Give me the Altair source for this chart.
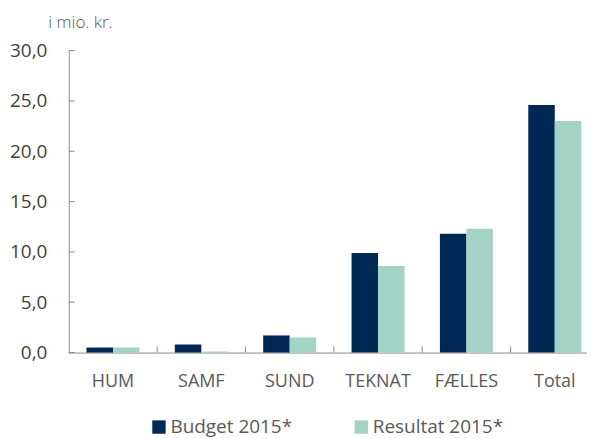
import altair as alt
import pandas as pd

categories = ["HUM", "SAMF", "SUND", "TEKNAT", "FÆLLES", "Total"]
series = ["Budget 2015*", "Resultat 2015*"]
budget = [0.5, 0.8, 1.7, 9.9, 11.8, 24.6]
resultat = [0.5, 0.1, 1.5, 8.6, 12.3, 23.0]
y_ticks = [0, 5, 10, 15, 20, 25, 30]
colors = ["#002855", "#A3D3C4"]

rows = []
for c, b, r in zip(categories, budget, resultat):
    rows.append({"kategori": c, "serie": series[0], "værdi": b})
    rows.append({"kategori": c, "serie": series[1], "værdi": r})
df = pd.DataFrame(rows)

FONT = "Open Sans"
AXIS_COLOR = "#8c8c8c"
TEXT_COLOR = "#595959"

x_enc = alt.X(
    "kategori:N",
    sort=categories,
    scale=alt.Scale(paddingInner=0, paddingOuter=0, range=[0, 532]),
    axis=alt.Axis(
        title=None, labelAngle=0, ticks=False, tickSize=0,
        domainColor=AXIS_COLOR, labelFont=FONT, labelFontSize=18,
        labelColor=TEXT_COLOR, labelPadding=20,
    ),
)

y_enc = alt.Y(
    "værdi:Q",
    scale=alt.Scale(domain=[0, 30], nice=False),
    axis=alt.Axis(
        values=y_ticks,
        labelExpr="replace(format(datum.value, '.1f'), '.', ',')",
        ticks=False, tickSize=0, grid=False, domainColor=AXIS_COLOR,
        labelFont=FONT, labelFontSize=19, labelColor="#404040",
        labelPadding=22,
        title="i mio. kr.", titleAngle=0, titleAlign="left",
        titleBaseline="alphabetic", titleX=-21, titleY=-23,
        titleFont=FONT, titleFontSize=17, titleFontWeight=300,
        titleColor=TEXT_COLOR,
    ),
)

bars = alt.Chart(df).mark_bar().encode(
    x=x_enc,
    xOffset=alt.XOffset("serie:N", sort=series,
                        scale=alt.Scale(paddingInner=0, paddingOuter=0.667)),
    y=y_enc,
    color=alt.Color(
        "serie:N", sort=series,
        scale=alt.Scale(domain=series, range=colors),
        legend=alt.Legend(
            title=None, orient="none", legendX=81, legendY=368,
            direction="horizontal", symbolType="square", symbolSize=180,
            symbolStrokeWidth=0, labelFont=FONT, labelFontSize=19,
            labelColor=TEXT_COLOR, columnPadding=59, labelOffset=2,
        ),
    ),
)

xticks = alt.Chart(pd.DataFrame({"kategori": categories[1:]})).mark_rule(
    color=AXIS_COLOR, strokeWidth=1
).encode(
    x=alt.X("kategori:N", sort=categories, bandPosition=0),
    y=alt.value(297),
    y2=alt.value(303),
)

yticks = alt.Chart(pd.DataFrame({"værdi": y_ticks})).mark_rule(
    color=AXIS_COLOR, strokeWidth=1
).encode(
    y=alt.Y("værdi:Q"),
    x=alt.value(0),
    x2=alt.value(6),
)

chart = alt.layer(bars, xticks, yticks).properties(
    width=520, height=303,
    autosize=alt.AutoSizeParams(type="none"),
    padding={"left": 61, "top": 42, "right": 0, "bottom": 86},
).configure_view(stroke=None)

chart.save("out.html", embed_options={"renderer": "svg", "actions": False})
